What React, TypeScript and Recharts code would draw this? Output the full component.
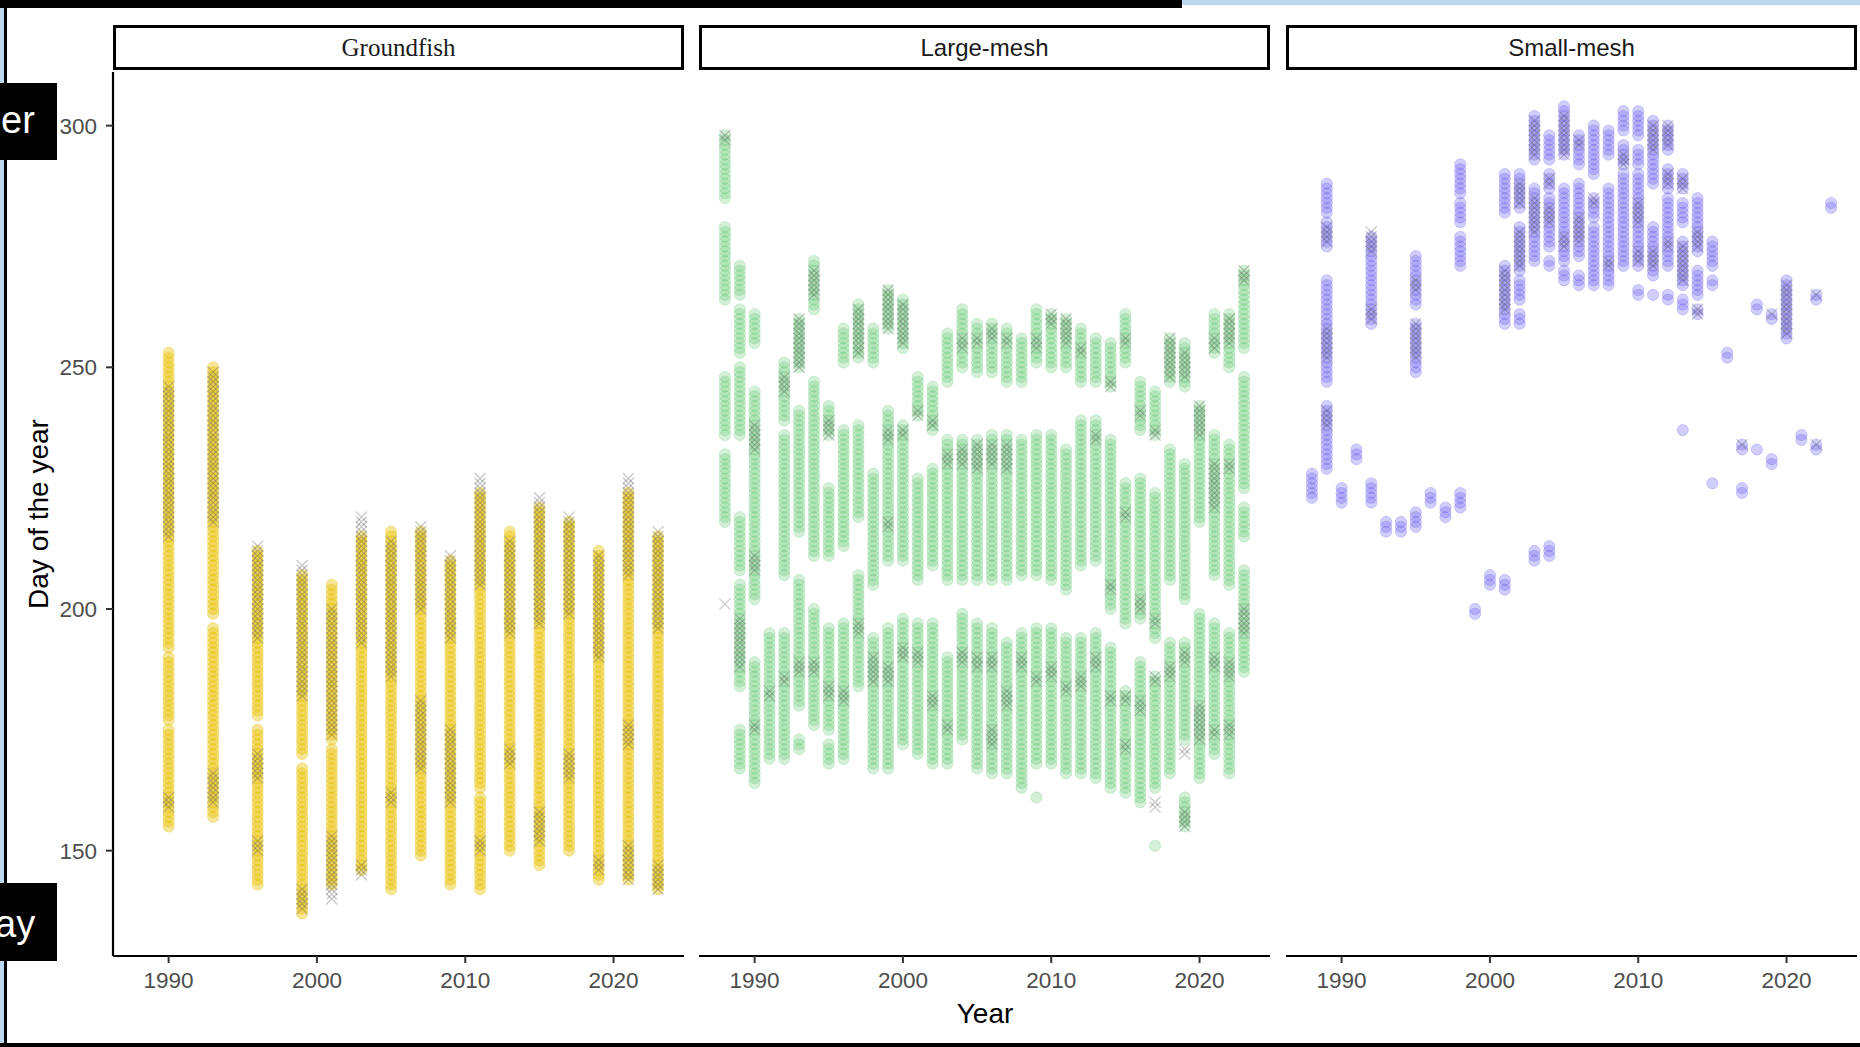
import React from 'react'
import { ScatterChart, Scatter, XAxis, YAxis } from 'recharts'

// each run: [year, first day, last day] of consecutive sampled days
type Run = [number, number, number]

const YEAR_TICKS = [1990, 2000, 2010, 2020]
const DAY_TICKS = [150, 200, 250, 300]
const YEAR_DOMAIN = [1986.25, 2024.75]
const DAY_DOMAIN = [128.2, 311.1]

const groundfishDots: Run[] = [
  [1990, 155, 175], [1990, 177, 190], [1990, 192, 253],
  [1993, 157, 196], [1993, 199, 250],
  [1996, 143, 175], [1996, 178, 212],
  [1999, 137, 167], [1999, 170, 207],
  [2001, 143, 171], [2001, 173, 205],
  [2003, 146, 215],
  [2005, 142, 216],
  [2007, 149, 216],
  [2009, 143, 210],
  [2011, 142, 161], [2011, 163, 224],
  [2013, 150, 216],
  [2015, 147, 221],
  [2017, 150, 218],
  [2019, 144, 212],
  [2021, 144, 224],
  [2023, 142, 215],
]

const groundfishCross: Run[] = [
  [1990, 215, 246], [1990, 159, 161],
  [1993, 218, 249], [1993, 160, 166],
  [1996, 194, 213], [1996, 165, 170], [1996, 150, 152],
  [1999, 182, 209], [1999, 138, 142],
  [2001, 174, 200], [2001, 140, 153],
  [2003, 193, 219], [2003, 145, 147],
  [2005, 186, 214], [2005, 160, 162],
  [2007, 200, 217], [2007, 167, 181],
  [2009, 194, 211], [2009, 160, 175],
  [2011, 205, 227], [2011, 150, 152],
  [2013, 195, 214], [2013, 168, 171],
  [2015, 197, 223], [2015, 152, 158],
  [2017, 199, 219], [2017, 165, 170],
  [2019, 190, 211], [2019, 146, 148],
  [2021, 207, 227], [2021, 172, 176], [2021, 144, 151],
  [2023, 196, 216], [2023, 142, 147],
]

const largeMeshDots: Run[] = [
  [1988, 285, 298], [1988, 264, 279], [1988, 236, 248], [1988, 218, 232],
  [1989, 265, 271], [1989, 253, 262], [1989, 236, 250], [1989, 208, 219], [1989, 184, 205], [1989, 167, 175],
  [1990, 255, 261], [1990, 202, 245], [1990, 164, 189],
  [1991, 169, 195],
  [1992, 239, 251], [1992, 207, 236], [1992, 169, 195],
  [1993, 250, 260], [1993, 216, 241], [1993, 180, 206], [1993, 171, 173],
  [1994, 262, 272], [1994, 211, 247], [1994, 176, 200],
  [1995, 236, 242], [1995, 211, 225], [1995, 175, 196], [1995, 168, 172],
  [1996, 251, 258], [1996, 213, 237], [1996, 169, 197],
  [1997, 252, 263], [1997, 219, 238], [1997, 184, 207],
  [1998, 251, 258], [1998, 205, 228], [1998, 167, 194],
  [1999, 258, 266], [1999, 210, 241], [1999, 167, 196],
  [2000, 254, 264], [2000, 210, 238], [2000, 172, 198],
  [2001, 240, 248], [2001, 206, 227], [2001, 170, 197],
  [2002, 237, 246], [2002, 209, 229], [2002, 168, 197],
  [2003, 247, 257], [2003, 206, 235], [2003, 168, 190],
  [2004, 250, 262], [2004, 206, 235], [2004, 173, 199],
  [2005, 249, 259], [2005, 206, 235], [2005, 167, 197],
  [2006, 249, 259], [2006, 206, 236], [2006, 166, 196],
  [2007, 247, 258], [2007, 206, 236], [2007, 166, 193],
  [2008, 247, 256], [2008, 207, 235], [2008, 163, 195],
  [2009, 251, 262], [2009, 207, 236], [2009, 168, 196], [2009, 161, 161],
  [2010, 250, 261], [2010, 206, 236], [2010, 168, 196],
  [2011, 250, 260], [2011, 204, 233], [2011, 166, 194],
  [2012, 247, 258], [2012, 209, 239], [2012, 166, 194],
  [2013, 247, 256], [2013, 210, 239], [2013, 165, 195],
  [2014, 246, 255], [2014, 200, 235], [2014, 163, 192],
  [2015, 251, 261], [2015, 197, 226], [2015, 162, 183],
  [2016, 237, 247], [2016, 198, 227], [2016, 160, 189],
  [2017, 236, 245], [2017, 194, 224], [2017, 163, 186], [2017, 151, 151],
  [2018, 247, 256], [2018, 206, 233], [2018, 166, 193],
  [2019, 246, 255], [2019, 202, 230], [2019, 173, 193], [2019, 155, 161],
  [2020, 218, 242], [2020, 165, 199],
  [2021, 253, 261], [2021, 207, 236], [2021, 170, 197],
  [2022, 250, 261], [2022, 205, 234], [2022, 166, 195],
  [2023, 254, 270], [2023, 225, 248], [2023, 215, 221], [2023, 187, 208],
]

const largeMeshCross: Run[] = [
  [1988, 297, 298], [1988, 201, 201],
  [1989, 188, 198],
  [1990, 233, 238], [1990, 208, 211], [1990, 175, 176],
  [1991, 182, 183],
  [1992, 245, 248], [1992, 185, 186],
  [1993, 250, 260], [1993, 187, 189],
  [1994, 265, 270], [1994, 187, 189],
  [1995, 236, 239], [1995, 182, 184],
  [1996, 181, 183],
  [1997, 253, 262], [1997, 195, 197],
  [1998, 185, 190],
  [1999, 258, 266], [1999, 235, 237], [1999, 217, 218], [1999, 185, 188],
  [2000, 255, 263], [2000, 236, 237], [2000, 190, 192],
  [2001, 240, 241], [2001, 189, 191],
  [2002, 238, 239], [2002, 180, 182],
  [2003, 230, 232], [2003, 175, 176],
  [2004, 254, 256], [2004, 230, 233], [2004, 189, 191],
  [2005, 255, 256], [2005, 229, 234], [2005, 188, 190],
  [2006, 256, 258], [2006, 230, 234], [2006, 188, 190], [2006, 172, 175],
  [2007, 255, 256], [2007, 229, 234], [2007, 180, 183],
  [2008, 188, 190],
  [2009, 254, 256], [2009, 185, 186],
  [2010, 259, 261], [2010, 186, 188],
  [2011, 255, 260], [2011, 183, 184],
  [2012, 253, 254], [2012, 184, 186],
  [2013, 235, 236], [2013, 188, 190],
  [2014, 246, 247], [2014, 204, 205], [2014, 181, 182],
  [2015, 255, 256], [2015, 219, 220], [2015, 181, 182], [2015, 171, 172],
  [2016, 240, 241], [2016, 200, 202], [2016, 179, 181],
  [2017, 236, 237], [2017, 197, 198], [2017, 185, 186], [2017, 159, 160],
  [2018, 248, 256], [2018, 186, 188],
  [2019, 248, 253], [2019, 189, 191], [2019, 170, 171], [2019, 155, 158],
  [2020, 236, 242], [2020, 173, 180],
  [2021, 254, 256], [2021, 221, 230], [2021, 188, 190], [2021, 174, 175],
  [2022, 255, 260], [2022, 229, 230], [2022, 186, 189], [2022, 174, 176],
  [2023, 268, 270], [2023, 195, 200],
]

const smallMeshDots: Run[] = [
  [1988, 223, 228],
  [1989, 282, 288], [1989, 275, 280], [1989, 247, 268], [1989, 229, 242],
  [1990, 222, 225],
  [1991, 231, 233],
  [1992, 273, 277], [1992, 259, 272], [1992, 222, 226],
  [1993, 216, 218],
  [1994, 216, 218],
  [1995, 269, 273], [1995, 263, 268], [1995, 249, 259], [1995, 217, 220],
  [1996, 222, 224],
  [1997, 219, 221],
  [1998, 286, 292], [1998, 280, 284], [1998, 273, 277], [1998, 271, 272], [1998, 221, 224],
  [1999, 199, 200],
  [2000, 205, 207],
  [2001, 282, 290], [2001, 259, 271], [2001, 204, 206],
  [2002, 283, 290], [2002, 270, 279], [2002, 264, 268], [2002, 259, 261],
  [2003, 293, 302], [2003, 272, 287], [2003, 210, 212],
  [2004, 293, 298], [2004, 287, 290], [2004, 275, 285], [2004, 271, 272], [2004, 211, 213],
  [2005, 294, 304], [2005, 272, 287], [2005, 268, 270],
  [2006, 292, 298], [2006, 273, 288], [2006, 267, 269],
  [2007, 290, 300], [2007, 281, 285], [2007, 267, 279],
  [2008, 294, 299], [2008, 267, 287],
  [2009, 299, 303], [2009, 292, 296], [2009, 271, 290],
  [2010, 298, 303], [2010, 292, 295], [2010, 271, 290], [2010, 265, 266],
  [2011, 294, 301], [2011, 288, 293], [2011, 269, 279], [2011, 265, 265],
  [2012, 295, 300], [2012, 287, 291], [2012, 271, 285], [2012, 264, 265],
  [2013, 287, 290], [2013, 280, 284], [2013, 267, 276], [2013, 262, 264], [2013, 237, 237],
  [2014, 274, 285], [2014, 265, 270], [2014, 261, 262],
  [2015, 271, 276], [2015, 267, 268], [2015, 226, 226],
  [2016, 252, 253],
  [2017, 233, 234], [2017, 224, 225],
  [2018, 262, 263], [2018, 233, 233],
  [2019, 260, 261], [2019, 230, 231],
  [2020, 256, 268],
  [2021, 235, 236],
  [2022, 264, 265], [2022, 233, 234],
  [2023, 283, 284],
]

const smallMeshCross: Run[] = [
  [1989, 276, 279], [1989, 252, 258], [1989, 238, 241],
  [1992, 274, 278], [1992, 260, 262],
  [1995, 266, 268], [1995, 252, 259],
  [2001, 262, 270],
  [2002, 284, 288], [2002, 271, 278],
  [2003, 294, 301], [2003, 278, 285],
  [2004, 288, 289], [2004, 280, 283],
  [2005, 294, 302], [2005, 275, 277],
  [2006, 296, 297], [2006, 276, 281],
  [2007, 284, 285],
  [2008, 271, 272],
  [2009, 292, 294],
  [2010, 280, 284], [2010, 272, 274],
  [2011, 295, 300], [2011, 271, 274],
  [2012, 296, 300], [2012, 288, 290], [2012, 275, 276],
  [2013, 287, 289], [2013, 268, 275],
  [2014, 275, 278], [2014, 261, 262],
  [2017, 234, 234],
  [2019, 261, 261],
  [2020, 257, 267],
  [2022, 265, 265], [2022, 234, 234],
]

function toPoints(runs: Run[]) {
  const pts: { year: number; day: number }[] = []
  for (const [year, a, b] of runs) {
    for (let d = a; d <= b; d++) pts.push({ year, day: d })
  }
  return pts
}

const dotShape = (color: string, alpha: number) => (p: any) => {
  if (p.cx == null || p.cy == null) return <g />
  return (
    <circle cx={p.cx} cy={p.cy} r={5.6} fill={color} fillOpacity={alpha}
      stroke={color} strokeOpacity={alpha + 0.05} strokeWidth={0.8} />
  )
}

const crossShape = (p: any) => {
  if (p.cx == null || p.cy == null) return <g />
  const s = 5.5
  const { cx, cy } = p
  return (
    <path d={`M${cx - s},${cy - s}L${cx + s},${cy + s}M${cx - s},${cy + s}L${cx + s},${cy - s}`}
      stroke="#3a3a3a" strokeOpacity={0.28} strokeWidth={1.3} fill="none" />
  )
}

const tickStyle = { fill: '#4d4d4d', fontSize: 22.5, fontFamily: '"Liberation Sans", Arial, sans-serif' }

function Panel({ x, title, serif, dots, cross, color, alpha, first }: {
  x: number
  title: string
  serif?: boolean
  dots: Run[]
  cross: Run[]
  color: string
  alpha: number
  first?: boolean
}) {
  const plotW = 571
  const yW = 60
  const left = first ? 0 : x - 5
  const mLeft = first ? x - yW : 5
  const width = first ? x + plotW + 5 : plotW + 10
  return (
    <>
      <div style={{ position: 'absolute', left, top: 0 }}>
        <ScatterChart width={width} height={1047} margin={{ top: 72, right: 5, bottom: 51, left: mLeft }}>
          <XAxis type="number" dataKey="year" domain={YEAR_DOMAIN} ticks={YEAR_TICKS} allowDataOverflow
            interval={0} height={40} tickSize={7} tickMargin={9} tick={tickStyle}
            axisLine={{ stroke: '#000', strokeWidth: 2.2 }} tickLine={{ stroke: '#333', strokeWidth: 2 }} />
          <YAxis type="number" dataKey="day" domain={DAY_DOMAIN} ticks={DAY_TICKS} allowDataOverflow
            hide={!first} width={yW} tickSize={7} tickMargin={9} tick={tickStyle}
            axisLine={{ stroke: '#000', strokeWidth: 2.2 }} tickLine={{ stroke: '#333', strokeWidth: 2 }} />
          <Scatter data={toPoints(dots)} shape={dotShape(color, alpha)} isAnimationActive={false} />
          <Scatter data={toPoints(cross)} shape={crossShape} isAnimationActive={false} />
        </ScatterChart>
      </div>
      <div style={{
        position: 'absolute', left: x, top: 25, width: plotW, height: 45, boxSizing: 'border-box',
        border: '3px solid #000', background: '#fff', display: 'flex', alignItems: 'center', justifyContent: 'center',
        fontFamily: serif ? '"Liberation Serif", "Times New Roman", serif' : '"Liberation Sans", Arial, sans-serif',
        fontSize: serif ? 25 : 24, color: '#1a1a1a',
      }}>
        {title}
      </div>
    </>
  )
}

export default function App() {
  return (
    <div style={{ position: 'absolute', left: 0, top: 0, width: 1860, height: 1047, overflow: 'hidden', background: '#fff' }}>
      <Panel x={113} title="Groundfish" serif dots={groundfishDots} cross={groundfishCross} color="#e8c000" alpha={0.4} first />
      <Panel x={699} title="Large-mesh" dots={largeMeshDots} cross={largeMeshCross} color="#4cc15c" alpha={0.24} />
      <Panel x={1286} title="Small-mesh" dots={smallMeshDots} cross={smallMeshCross} color="#6a5cf0" alpha={0.3} />

      <div style={{
        position: 'absolute', left: 39, top: 514, transform: 'translate(-50%, -50%) rotate(-90deg)',
        whiteSpace: 'nowrap', fontFamily: '"Liberation Sans", Arial, sans-serif', fontSize: 28, color: '#000',
      }}>
        Day of the year
      </div>
      <div style={{
        position: 'absolute', left: 985, top: 1014, transform: 'translate(-50%, -50%)',
        whiteSpace: 'nowrap', fontFamily: '"Liberation Sans", Arial, sans-serif', fontSize: 28, color: '#000',
      }}>
        Year
      </div>

      {/* slide frame pieces around the picture */}
      <div style={{ position: 'absolute', left: 0, top: 0, width: 1182, height: 8, background: '#000' }} />
      <div style={{ position: 'absolute', left: 1182, top: 0, width: 678, height: 5, background: '#bdd7ee' }} />
      <div style={{ position: 'absolute', left: 0, top: 8, width: 4, height: 1039, background: '#bdd7ee' }} />
      <div style={{ position: 'absolute', left: 4, top: 8, width: 3, height: 1039, background: '#000' }} />
      <div style={{ position: 'absolute', left: 0, top: 1043, width: 1860, height: 4, background: '#000' }} />
      <div style={{ position: 'absolute', left: 0, top: 83, width: 57, height: 77, background: '#000', overflow: 'hidden' }}>
        <span style={{ position: 'absolute', left: 1, top: 18, fontFamily: '"Liberation Sans", Arial, sans-serif', fontSize: 38, lineHeight: 1, color: '#fff' }}>er</span>
      </div>
      <div style={{ position: 'absolute', left: 0, top: 883, width: 57, height: 78, background: '#000', overflow: 'hidden' }}>
        <span style={{ position: 'absolute', left: -5, top: 22, fontFamily: '"Liberation Sans", Arial, sans-serif', fontSize: 38, lineHeight: 1, color: '#fff' }}>ay</span>
      </div>
    </div>
  )
}
